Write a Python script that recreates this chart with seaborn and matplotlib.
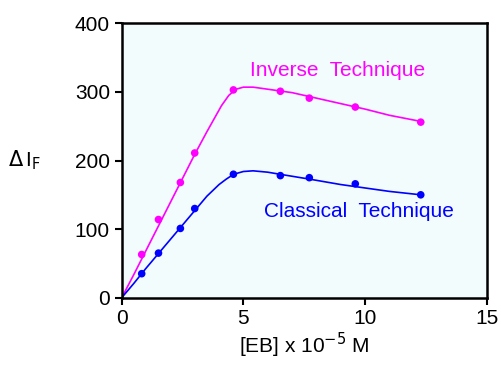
import numpy as np
import pandas as pd
import matplotlib
matplotlib.use('Agg')
import matplotlib.pyplot as plt
import seaborn as sns

# measured points
conc = [0.82, 1.51, 2.41, 3.0, 4.59, 6.52, 7.71, 9.6, 12.29]
inverse_pts = [63, 114, 168, 211, 303, 301, 291, 278, 256]
classical_pts = [35, 65, 101, 130, 180, 178, 175, 166, 150]

# fitted curves
inverse_curve_x = [0, 0.5, 1, 1.5, 2, 2.5, 3, 3.5, 3.8, 4.1, 4.4, 4.7, 5.0, 5.4, 6, 7, 8, 9, 10, 11, 12.3]
inverse_curve_y = [0, 34, 69, 104, 139, 174, 209, 242, 261, 280, 295, 304, 307, 307, 304, 299, 291, 283, 275, 266, 257]
classical_curve_x = [0, 0.5, 1, 1.5, 2, 2.5, 3, 3.5, 4, 4.3, 4.6, 5.0, 5.4, 6, 6.5, 7.7, 9, 10, 11, 12.3]
classical_curve_y = [0, 21, 43, 64, 85, 106, 127, 148, 165, 173, 180, 184, 185, 183, 180, 173, 165, 160, 155, 150]

MAGENTA = '#FF00FF'
BLUE = '#0000FF'

sns.set_theme(style='ticks')
plt.rcParams['font.family'] = ['Liberation Sans', 'DejaVu Sans']

fig = plt.figure(figsize=(5.01, 3.71), dpi=100)
ax = fig.add_axes([0.243, 0.1976, 0.7284, 0.7394])
ax.set_facecolor('#F2FCFD')

sns.lineplot(x=inverse_curve_x, y=inverse_curve_y, color=MAGENTA, lw=1.2, ax=ax)
sns.lineplot(x=classical_curve_x, y=classical_curve_y, color=BLUE, lw=1.2, ax=ax)
sns.scatterplot(x=conc, y=inverse_pts, color=MAGENTA, s=30, edgecolor='none', ax=ax, zorder=3)
sns.scatterplot(x=conc, y=classical_pts, color=BLUE, s=30, edgecolor='none', ax=ax, zorder=3)

ax.text(8.87, 332, 'Inverse  Technique', color=MAGENTA, fontsize=15, ha='center', va='center')
ax.text(9.76, 125, 'Classical  Technique', color=BLUE, fontsize=15, ha='center', va='center')

ax.set_xlim(0, 15)
ax.set_ylim(0, 400)
ax.set_xticks([0, 5, 10, 15])
ax.set_yticks([0, 100, 200, 300, 400])
ax.tick_params(labelsize=15, width=1.5, length=5, color='black', labelcolor='black', direction='out')
for sp in ax.spines.values():
    sp.set_linewidth(1.8)
    sp.set_color('black')

ax.set_xlabel('[EB] x 10$^{\\mathrm{-5}}$ M', fontsize=15, labelpad=2, color='black')
ax.set_ylabel(r'$\Delta\,$I$_\mathrm{F}$', fontsize=15, rotation=0, labelpad=0, color='black')
ax.yaxis.set_label_coords(-0.265, 0.46)

fig.savefig('out.png', dpi=100)
